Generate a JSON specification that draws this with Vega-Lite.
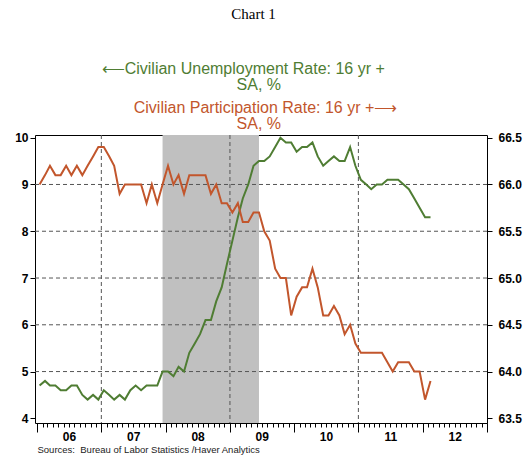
{
  "$schema": "https://vega.github.io/schema/vega-lite/v6.json",
  "width": 452,
  "height": 288,
  "padding": {"left": 14, "top": 7, "right": 5, "bottom": 5},
  "background": "white",
  "config": {
    "view": {"stroke": "black", "strokeWidth": 1},
    "axis": {
      "labelFont": "Liberation Sans",
      "labelFontWeight": "bold",
      "labelFontSize": 12,
      "labelColor": "black",
      "tickColor": "black",
      "tickWidth": 1,
      "domainColor": "black"
    }
  },
  "title": {
    "text": "Chart 1\u00a0\u00a0\u00a0\u00a0\u200b",
    "font": "Liberation Serif",
    "fontSize": 15,
    "fontWeight": "normal",
    "color": "black",
    "frame": "group",
    "anchor": "middle",
    "subtitle": ["\u27f5Civilian Unemployment Rate: 16 yr +\u00a0\u00a0\u00a0\u00a0\u00a0\u00a0\u00a0\u00a0\u200b", "SA, %\u00a0\u200b"],
    "subtitleFont": "Liberation Sans",
    "subtitleFontSize": 16,
    "subtitleColor": "#4f7d33",
    "subtitleLineHeight": 16,
    "subtitlePadding": 39,
    "offset": 6
  },
  "datasets": {
    "series": [
      {"date": "2006-01-15", "unemployment": 4.7, "participation": 66.0},
      {"date": "2006-02-15", "unemployment": 4.8, "participation": 66.1},
      {"date": "2006-03-15", "unemployment": 4.7, "participation": 66.2},
      {"date": "2006-04-15", "unemployment": 4.7, "participation": 66.1},
      {"date": "2006-05-15", "unemployment": 4.6, "participation": 66.1},
      {"date": "2006-06-15", "unemployment": 4.6, "participation": 66.2},
      {"date": "2006-07-15", "unemployment": 4.7, "participation": 66.1},
      {"date": "2006-08-15", "unemployment": 4.7, "participation": 66.2},
      {"date": "2006-09-15", "unemployment": 4.5, "participation": 66.1},
      {"date": "2006-10-15", "unemployment": 4.4, "participation": 66.2},
      {"date": "2006-11-15", "unemployment": 4.5, "participation": 66.3},
      {"date": "2006-12-15", "unemployment": 4.4, "participation": 66.4},
      {"date": "2007-01-15", "unemployment": 4.6, "participation": 66.4},
      {"date": "2007-02-15", "unemployment": 4.5, "participation": 66.3},
      {"date": "2007-03-15", "unemployment": 4.4, "participation": 66.2},
      {"date": "2007-04-15", "unemployment": 4.5, "participation": 65.9},
      {"date": "2007-05-15", "unemployment": 4.4, "participation": 66.0},
      {"date": "2007-06-15", "unemployment": 4.6, "participation": 66.0},
      {"date": "2007-07-15", "unemployment": 4.7, "participation": 66.0},
      {"date": "2007-08-15", "unemployment": 4.6, "participation": 66.0},
      {"date": "2007-09-15", "unemployment": 4.7, "participation": 65.8},
      {"date": "2007-10-15", "unemployment": 4.7, "participation": 66.0},
      {"date": "2007-11-15", "unemployment": 4.7, "participation": 65.8},
      {"date": "2007-12-15", "unemployment": 5.0, "participation": 66.0},
      {"date": "2008-01-15", "unemployment": 5.0, "participation": 66.2},
      {"date": "2008-02-15", "unemployment": 4.9, "participation": 66.0},
      {"date": "2008-03-15", "unemployment": 5.1, "participation": 66.1},
      {"date": "2008-04-15", "unemployment": 5.0, "participation": 65.9},
      {"date": "2008-05-15", "unemployment": 5.4, "participation": 66.1},
      {"date": "2008-06-15", "unemployment": 5.6, "participation": 66.1},
      {"date": "2008-07-15", "unemployment": 5.8, "participation": 66.1},
      {"date": "2008-08-15", "unemployment": 6.1, "participation": 66.1},
      {"date": "2008-09-15", "unemployment": 6.1, "participation": 65.9},
      {"date": "2008-10-15", "unemployment": 6.5, "participation": 66.0},
      {"date": "2008-11-15", "unemployment": 6.8, "participation": 65.8},
      {"date": "2008-12-15", "unemployment": 7.3, "participation": 65.8},
      {"date": "2009-01-15", "unemployment": 7.8, "participation": 65.7},
      {"date": "2009-02-15", "unemployment": 8.3, "participation": 65.8},
      {"date": "2009-03-15", "unemployment": 8.7, "participation": 65.6},
      {"date": "2009-04-15", "unemployment": 9.0, "participation": 65.6},
      {"date": "2009-05-15", "unemployment": 9.4, "participation": 65.7},
      {"date": "2009-06-15", "unemployment": 9.5, "participation": 65.7},
      {"date": "2009-07-15", "unemployment": 9.5, "participation": 65.5},
      {"date": "2009-08-15", "unemployment": 9.6, "participation": 65.4},
      {"date": "2009-09-15", "unemployment": 9.8, "participation": 65.1},
      {"date": "2009-10-15", "unemployment": 10.0, "participation": 65.0},
      {"date": "2009-11-15", "unemployment": 9.9, "participation": 65.0},
      {"date": "2009-12-15", "unemployment": 9.9, "participation": 64.6},
      {"date": "2010-01-15", "unemployment": 9.7, "participation": 64.8},
      {"date": "2010-02-15", "unemployment": 9.8, "participation": 64.9},
      {"date": "2010-03-15", "unemployment": 9.8, "participation": 64.9},
      {"date": "2010-04-15", "unemployment": 9.9, "participation": 65.1},
      {"date": "2010-05-15", "unemployment": 9.6, "participation": 64.9},
      {"date": "2010-06-15", "unemployment": 9.4, "participation": 64.6},
      {"date": "2010-07-15", "unemployment": 9.5, "participation": 64.6},
      {"date": "2010-08-15", "unemployment": 9.6, "participation": 64.7},
      {"date": "2010-09-15", "unemployment": 9.5, "participation": 64.6},
      {"date": "2010-10-15", "unemployment": 9.5, "participation": 64.4},
      {"date": "2010-11-15", "unemployment": 9.8, "participation": 64.5},
      {"date": "2010-12-15", "unemployment": 9.4, "participation": 64.3},
      {"date": "2011-01-15", "unemployment": 9.1, "participation": 64.2},
      {"date": "2011-02-15", "unemployment": 9.0, "participation": 64.2},
      {"date": "2011-03-15", "unemployment": 8.9, "participation": 64.2},
      {"date": "2011-04-15", "unemployment": 9.0, "participation": 64.2},
      {"date": "2011-05-15", "unemployment": 9.0, "participation": 64.2},
      {"date": "2011-06-15", "unemployment": 9.1, "participation": 64.1},
      {"date": "2011-07-15", "unemployment": 9.1, "participation": 64.0},
      {"date": "2011-08-15", "unemployment": 9.1, "participation": 64.1},
      {"date": "2011-09-15", "unemployment": 9.0, "participation": 64.1},
      {"date": "2011-10-15", "unemployment": 8.9, "participation": 64.1},
      {"date": "2011-11-15", "unemployment": 8.7, "participation": 64.0},
      {"date": "2011-12-15", "unemployment": 8.5, "participation": 64.0},
      {"date": "2012-01-15", "unemployment": 8.3, "participation": 63.7},
      {"date": "2012-02-15", "unemployment": 8.3, "participation": 63.9}
    ],
    "recession": [
      {"start": "2007-12-15", "end": "2009-06-15"}
    ],
    "vgrid": [
      {"date": "2007-01-01"},
      {"date": "2009-01-01"},
      {"date": "2011-01-01"}
    ],
    "hgrid": [
      {"level": 5},
      {"level": 6},
      {"level": 7},
      {"level": 8},
      {"level": 9}
    ]
  },
  "layer": [
    {
      "data": {"name": "recession"},
      "mark": {"type": "rect", "color": "#c0c0c0"},
      "encoding": {
        "x": {
          "field": "start",
          "type": "temporal",
          "scale": {"domain": [{"year": 2005, "month": 12, "date": 20}, {"year": 2013, "month": 1, "date": 1}]},
          "axis": {
            "orient": "bottom",
            "values": [
              {"year": 2006, "month": 1, "date": 1},
              {"year": 2007, "month": 1, "date": 1},
              {"year": 2008, "month": 1, "date": 1},
              {"year": 2009, "month": 1, "date": 1},
              {"year": 2010, "month": 1, "date": 1},
              {"year": 2011, "month": 1, "date": 1},
              {"year": 2012, "month": 1, "date": 1},
              {"year": 2013, "month": 1, "date": 1}
            ],
            "labels": false,
            "tickSize": 9,
            "domain": false,
            "grid": false,
            "title": null
          }
        },
        "x2": {"field": "end"}
      }
    },
    {
      "data": {"name": "vgrid"},
      "mark": {"type": "rule", "color": "#555555", "strokeWidth": 1, "strokeDash": [4, 3]},
      "encoding": {
        "x": {
          "field": "date",
          "type": "temporal",
          "scale": {"domain": [{"year": 2005, "month": 12, "date": 20}, {"year": 2013, "month": 1, "date": 1}]},
          "axis": {
            "orient": "top",
            "labels": false,
            "ticks": false,
            "domain": false,
            "grid": false,
            "title": ["Civilian Participation Rate: 16 yr +\u27f6", "SA, %\u00a0\u00a0\u00a0\u200b"],
            "titleColor": "#c2562c",
            "titleFont": "Liberation Sans",
            "titleFontSize": 16,
            "titleFontWeight": "normal",
            "titleLineHeight": 16,
            "titlePadding": 4,
            "titleX": 230
          }
        }
      }
    },
    {
      "data": {"name": "hgrid"},
      "mark": {"type": "rule", "color": "#555555", "strokeWidth": 1, "strokeDash": [4, 3]},
      "encoding": {
        "y": {
          "field": "level",
          "type": "quantitative",
          "scale": {"domain": [3.9, 10.058], "nice": false, "zero": false},
          "axis": null
        }
      }
    },
    {
      "data": {"name": "series"},
      "mark": {"type": "line", "color": "#4f7d33", "strokeWidth": 2},
      "encoding": {
        "x": {
          "field": "date",
          "type": "temporal",
          "scale": {"domain": [{"year": 2005, "month": 12, "date": 20}, {"year": 2013, "month": 1, "date": 1}]},
          "axis": {
            "orient": "bottom",
            "values": [
              {"year": 2006, "month": 7, "date": 1},
              {"year": 2007, "month": 7, "date": 1},
              {"year": 2008, "month": 7, "date": 1},
              {"year": 2009, "month": 7, "date": 1},
              {"year": 2010, "month": 7, "date": 1},
              {"year": 2011, "month": 7, "date": 1},
              {"year": 2012, "month": 7, "date": 1}
            ],
            "format": "%y",
            "ticks": false,
            "labelPadding": 8,
            "domain": false,
            "grid": false,
            "title": "Sources:\u00a0 Bureau of Labor Statistics /Haver Analytics",
            "titleFont": "Liberation Sans",
            "titleFontSize": 9.5,
            "titleFontWeight": "normal",
            "titleColor": "#222222",
            "titleAnchor": "start",
            "titleAlign": "left",
            "titleX": 2,
            "titlePadding": 2
          }
        },
        "y": {
          "field": "unemployment",
          "type": "quantitative",
          "scale": {"domain": [3.9, 10.058], "nice": false, "zero": false},
          "axis": {
            "orient": "left",
            "values": [4, 5, 6, 7, 8, 9, 10],
            "format": "d",
            "tickSize": 5,
            "labelPadding": 2,
            "domain": false,
            "grid": false,
            "title": null
          }
        }
      }
    },
    {
      "data": {"name": "series"},
      "mark": {"type": "line", "color": "#c2562c", "strokeWidth": 2},
      "encoding": {
        "x": {
          "field": "date",
          "type": "temporal",
          "scale": {"domain": [{"year": 2005, "month": 12, "date": 20}, {"year": 2013, "month": 1, "date": 1}]},
          "axis": {
            "orient": "bottom",
            "tickCount": {"interval": "month", "step": 1},
            "labels": false,
            "tickSize": 4,
            "domain": false,
            "grid": false,
            "title": null
          }
        },
        "y": {
          "field": "participation",
          "type": "quantitative",
          "scale": {"domain": [63.45, 66.529], "nice": false, "zero": false},
          "axis": {
            "orient": "right",
            "values": [63.5, 64, 64.5, 65, 65.5, 66, 66.5],
            "format": ".1f",
            "tickSize": 5,
            "labelPadding": 6,
            "domain": false,
            "grid": false,
            "title": null
          }
        }
      }
    }
  ],
  "resolve": {
    "scale": {"x": "shared", "y": "independent"},
    "axis": {"x": "independent", "y": "independent"}
  }
}
